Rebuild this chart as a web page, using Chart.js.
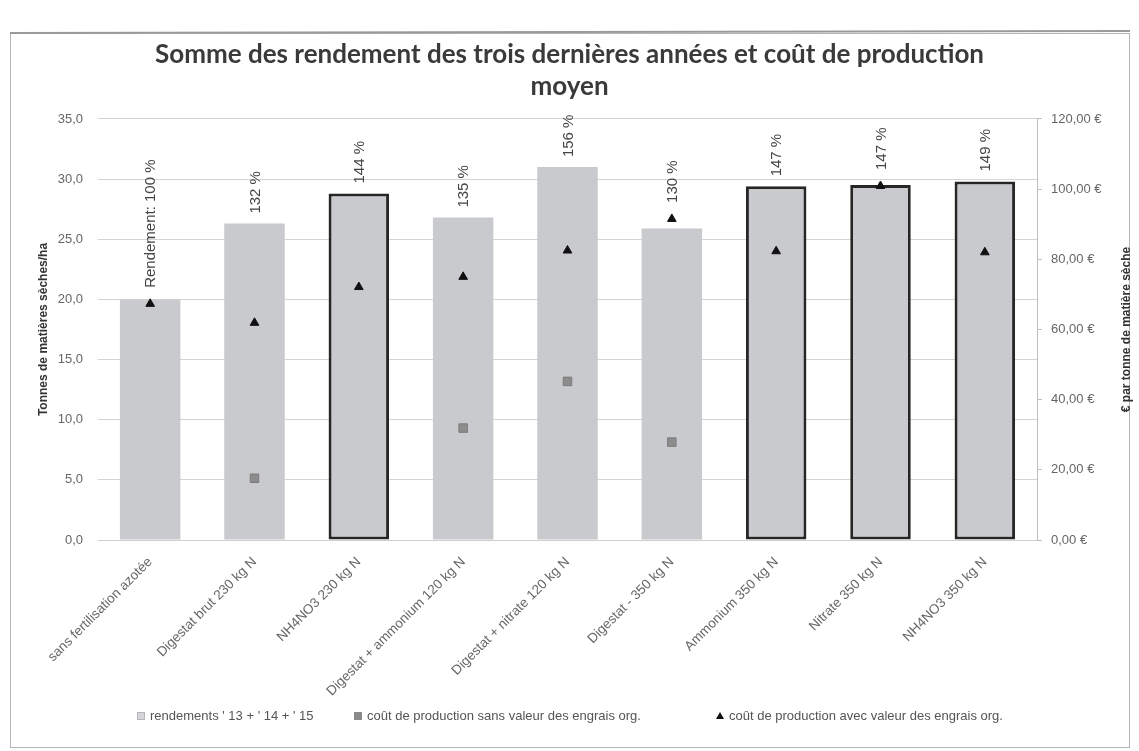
<!DOCTYPE html>
<html><head><meta charset="utf-8">
<script src="https://cdn.jsdelivr.net/npm/chart.js@4.4.1/dist/chart.umd.min.js"></script>
<style>
html,body{margin:0;padding:0;background:#fff;}
#wrap{width:1139px;height:751px;position:relative;overflow:hidden;}
canvas{position:absolute;left:0;top:0;}
.leg{position:absolute;top:708px;font-family:'Liberation Sans',Arial,sans-serif;font-size:13px;color:#555;white-space:nowrap;line-height:16px;}
.mk{display:inline-block;vertical-align:middle;margin-right:5px;position:relative;top:-1px;}
.mk1{width:6px;height:6px;background:#d4d5d8;border:1px solid #b8b8b8;}
.mk2{width:8px;height:8px;background:#8a8a8a;}
.mk3{width:0;height:0;border-left:4px solid transparent;border-right:4px solid transparent;border-bottom:7px solid #111;}
</style>
</head><body>
<div id="wrap">
<canvas id="c" width="1139" height="751"></canvas>
<div class="leg" id="leg0" style="left:137px"><span class="mk mk1"></span><span class="lt"></span></div>
<div class="leg" id="leg1" style="left:354px"><span class="mk mk2"></span><span class="lt"></span></div>
<div class="leg" id="leg2" style="left:716px"><span class="mk mk3"></span><span class="lt"></span></div>
</div>
<script>
const categories = [
  'sans fertilisation azotée',
  'Digestat brut 230 kg N',
  'NH4NO3 230 kg N',
  'Digestat + ammonium 120 kg N',
  'Digestat + nitrate 120 kg N',
  'Digestat - 350 kg N',
  'Ammonium 350 kg N',
  'Nitrate 350 kg N',
  'NH4NO3 350 kg N'
];
const rendements = [20.0, 26.3, 28.8, 26.8, 31.0, 25.9, 29.4, 29.5, 29.8];
const rendementLabels = ['Rendement: 100 %', '132 %', '144 %', '135 %', '156 %', '130 %', '147 %', '147 %', '149 %'];
const coutSansValeur = [null, 17.6, null, 31.9, 45.2, 27.9, null, null, null];
const coutAvecValeur = [67.3, 61.9, 72.1, 75.0, 82.5, 91.5, 82.3, 100.9, 82.0];
const leftTicks = [0, 5, 10, 15, 20, 25, 30, 35];
const rightTicks = [0, 20, 40, 60, 80, 100, 120];
const seriesNames = ["rendements ' 13 + ' 14 + ' 15", 'coût de production sans valeur des engrais org.', 'coût de production avec valeur des engrais org.'];
const titleLines = ['Somme des rendement des trois dernières années et coût de production', 'moyen'];
const leftTitle = 'Tonnes de matières sèches/ha';
const rightTitle = '€ par tonne de matière sèche';
const outlinedCategories = ['NH4NO3 230 kg N', 'Ammonium 350 kg N', 'Nitrate 350 kg N', 'NH4NO3 350 kg N'];

seriesNames.forEach((n, i) => { document.querySelector('#leg' + i + ' .lt').textContent = n; });

const FONT = "'Liberation Sans', Arial, sans-serif";

const framePlugin = {
  id: 'frame',
  beforeDraw(chart) {
    const c = chart.ctx;
    c.save();
    c.fillStyle = '#fff';
    c.fillRect(0, 0, chart.width, chart.height);
    c.strokeStyle = '#b5b5b5';
    c.lineWidth = 1;
    c.strokeRect(10.5, 33.5, 1119, 714);
    c.strokeStyle = '#9a9a9a';
    c.lineWidth = 2;
    c.beginPath(); c.moveTo(10, 33); c.lineTo(1130, 31); c.stroke();
    c.restore();
  }
};

const labelPlugin = {
  id: 'barLabels',
  afterDatasetsDraw(chart) {
    const c = chart.ctx;
    const bars = chart.getDatasetMeta(0).data;
    const tris = chart.getDatasetMeta(2).data;
    c.save();
    c.font = '15px ' + FONT;
    c.fillStyle = '#444';
    c.textAlign = 'left';
    c.textBaseline = 'middle';
    bars.forEach((b, i) => {
      const triTop = tris[i] ? tris[i].y - 6 : Infinity;
      const bottom = Math.min(b.y, triTop) - 10;
      c.save();
      c.translate(b.x + 1, bottom);
      c.rotate(-Math.PI / 2);
      c.fillText(rendementLabels[i], 0, 0);
      c.restore();
    });
    const ca = chart.chartArea;
    c.font = 'bold 12px ' + FONT;
    c.fillStyle = '#333';
    c.textAlign = 'center';
    c.save();
    c.translate(1127, (ca.top + ca.bottom) / 2);
    c.rotate(-Math.PI / 2);
    c.fillText(rightTitle, 0, 0);
    c.restore();
    c.restore();
  }
};

const isOutlined = (ctx) => outlinedCategories.includes(categories[ctx.dataIndex]);

new Chart(document.getElementById('c'), {
  data: {
    labels: categories,
    datasets: [
      {
        type: 'bar',
        label: seriesNames[0],
        data: rendements,
        yAxisID: 'y',
        order: 3,
        backgroundColor: '#c9cacd',
        borderColor: '#262626',
        borderWidth: (ctx) => isOutlined(ctx) ? 3 : 0,
        borderSkipped: false,
        categoryPercentage: 1,
        barPercentage: 0.58
      },
      {
        type: 'line',
        label: seriesNames[1],
        data: coutSansValeur,
        yAxisID: 'y2',
        order: 2,
        showLine: false,
        pointStyle: 'rect',
        pointRadius: 6,
        pointBackgroundColor: '#8c8c8c',
        pointBorderColor: '#7a7a7a',
        pointBorderWidth: 1
      },
      {
        type: 'line',
        label: seriesNames[2],
        data: coutAvecValeur,
        yAxisID: 'y2',
        order: 1,
        showLine: false,
        pointStyle: 'triangle',
        pointRadius: 5,
        pointBackgroundColor: '#111',
        pointBorderColor: '#111',
        pointBorderWidth: 1
      }
    ]
  },
  options: {
    responsive: false,
    animation: false,
    layout: { padding: { left: 0, right: 0, top: 0, bottom: 0 } },
    plugins: {
      legend: { display: false },
      tooltip: { enabled: false },
      title: {
        display: true,
        text: titleLines,
        color: '#3a3a3a',
        font: { family: 'Lato', size: 26, weight: 'bold', lineHeight: 1.23 },
        padding: { top: 39, bottom: 16 }
      }
    },
    scales: {
      x: {
        grid: { display: false },
        border: { display: true, color: '#cfcfcf' },
        ticks: {
          autoSkip: false, minRotation: 45, maxRotation: 45,
          color: '#666', font: { family: FONT, size: 13.5 }, padding: 6
        },
        afterFit(s) { s.height = 211; }
      },
      y: {
        position: 'left',
        min: leftTicks[0], max: leftTicks[leftTicks.length - 1],
        afterBuildTicks(s) { s.ticks = leftTicks.map(v => ({ value: v })); },
        grid: { color: '#d4d4d4', drawTicks: false },
        border: { display: false },
        ticks: {
          color: '#666', font: { family: FONT, size: 13 }, padding: 15,
          callback: (v) => Number(v).toFixed(1).replace('.', ',')
        },
        title: {
          display: true, text: leftTitle, color: '#333',
          font: { family: FONT, size: 12, weight: 'bold' },
          padding: { top: 36, bottom: 0 }
        },
        afterFit(s) { s.width = 98; }
      },
      y2: {
        position: 'right',
        min: rightTicks[0], max: rightTicks[rightTicks.length - 1],
        afterBuildTicks(s) { s.ticks = rightTicks.map(v => ({ value: v })); },
        grid: { drawOnChartArea: false, drawTicks: true, tickLength: 5, color: '#bdbdbd' },
        border: { display: true, color: '#bdbdbd' },
        ticks: {
          color: '#666', font: { family: FONT, size: 13 }, padding: 9,
          callback: (v) => Number(v).toFixed(2).replace('.', ',') + ' €'
        },
        afterFit(s) { s.width = 102; }
      }
    }
  },
  plugins: [framePlugin, labelPlugin]
});
</script>
</body></html>
